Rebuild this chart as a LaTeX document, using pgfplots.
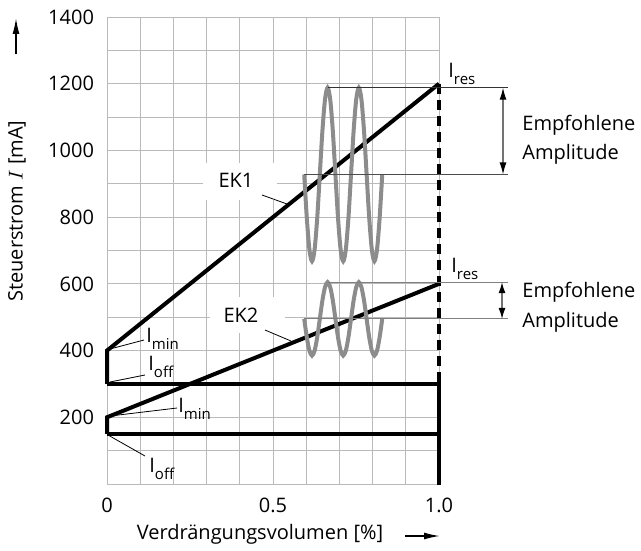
\documentclass[border=0pt]{standalone}
\usepackage{fontspec}
\setmainfont{Open Sans}
\usepackage{pgfplots}
\pgfplotsset{compat=1.18}
\usetikzlibrary{arrows.meta}

% lowered subscript as in the reference (I_min, I_off, I_res)
\newcommand{\sub}[1]{\raisebox{-3.5pt}{\fontsize{7.5}{9}\selectfont #1}}

\begin{document}
\begin{tikzpicture}[font=\fontsize{10}{12}\selectfont]
\begin{axis}[
    scale only axis,
    width=166pt, height=233.5pt,
    xmin=0, xmax=1, ymin=0, ymax=1400,
    xtick={0,0.5,1}, xticklabels={0,0.5,1.0},
    minor xtick={0.1,0.2,0.3,0.4,0.6,0.7,0.8,0.9},
    ytick={200,400,...,1400},
    minor ytick={100,300,...,1300},
    grid=both,
    grid style={black!27, line width=0.5pt},
    major tick length=0pt, minor tick length=0pt,
    axis line style={black!27, line width=0.5pt},
    /pgf/number format/assume math mode=true,
    /pgf/number format/1000 sep={},
    yticklabel style={xshift=-3pt},
    xticklabel style={yshift=-3.5pt},
    clip=false,
]
% EK1 / EK2 characteristics
\addplot[black, line width=2pt, line join=miter] coordinates {(0,300) (0,400) (1,1200)};
\addplot[black, line width=2pt, line join=miter] coordinates {(0,150) (0,200) (1,600)};
\addplot[black, line width=2pt, line join=miter] coordinates {(0,300) (1,300) (1,0)};
\addplot[black, line width=2pt] coordinates {(0,150) (1,150)};
\addplot[black, line width=2.2pt, dash pattern=on 5pt off 3pt] coordinates {(1,1200) (1,0)};

% recommended dither signal EK1
\addplot[black!45, line width=2pt, smooth] coordinates {
 (0.5940,928) (0.6018,798) (0.6097,702.8) (0.6175,668) (0.6253,702.8) (0.6332,798)
 (0.6410,928) (0.6488,1058) (0.6567,1153.2) (0.6645,1188) (0.6723,1153.2) (0.6802,1058)
 (0.6880,928) (0.6958,798) (0.7037,702.8) (0.7115,668) (0.7193,702.8) (0.7272,798)
 (0.7350,928) (0.7428,1058) (0.7507,1153.2) (0.7585,1188) (0.7663,1153.2) (0.7742,1058)
 (0.7820,928) (0.7898,798) (0.7977,702.8) (0.8055,668) (0.8133,702.8) (0.8212,798)
 (0.8290,928)};
% recommended dither signal EK2
\addplot[black!45, line width=2pt, smooth] coordinates {
 (0.5940,495) (0.6018,440) (0.6097,399.7) (0.6175,385) (0.6253,399.7) (0.6332,440)
 (0.6410,495) (0.6488,550) (0.6567,590.3) (0.6645,605) (0.6723,590.3) (0.6802,550)
 (0.6880,495) (0.6958,440) (0.7037,399.7) (0.7115,385) (0.7193,399.7) (0.7272,440)
 (0.7350,495) (0.7428,550) (0.7507,590.3) (0.7585,605) (0.7663,590.3) (0.7742,550)
 (0.7820,495) (0.7898,440) (0.7977,399.7) (0.8055,385) (0.8133,399.7) (0.8212,440)
 (0.8290,495)};

% amplitude guide lines and arrows
\draw[black!80, line width=0.6pt] (axis cs:0.6645,1188) -- (axis cs:1.2078,1188);
\draw[black!70, line width=0.6pt] (axis cs:0.5940,928) -- (axis cs:1.2078,928);
\draw[black!50, line width=0.6pt] (axis cs:0.6645,605) -- (axis cs:1.2078,605);
\draw[black!50, line width=0.6pt] (axis cs:0.5940,495) -- (axis cs:1.2078,495);
\draw[black!55, line width=0.6pt, {Latex[length=6pt,width=3.5pt,color=black]}-{Latex[length=6pt,width=3.5pt,color=black]}]
  (axis cs:1.1928,1188) -- (axis cs:1.1928,928);
\draw[black!55, line width=0.6pt, {Latex[length=5.5pt,width=3.5pt,color=black]}-{Latex[length=5.5pt,width=3.5pt,color=black]}]
  (axis cs:1.1898,605) -- (axis cs:1.1898,495);

\coordinate (TL) at (axis cs:-0.32229,1450.97);
\end{axis}

\pgfresetboundingbox
% annotations in image pixels (origin top left, 1px = 0.5pt)
\begin{scope}[shift={(TL)}, x=0.5pt, y=-0.5pt]
\path (0,0) rectangle (641,543);

% label boxes that break the grid
\fill[white] (203,163) rectangle (277,200);
\fill[white] (210,297) rectangle (285,333);
\node at (236,180) {EK1};
\node at (241,315) {EK2};
\draw[line width=0.4pt] (262,195) -- (287,204);
\draw[line width=0.4pt] (265,330) -- (291,341);

% I labels
\node[anchor=base west, inner sep=0] at (146,342) {I\sub{min}};
\node[anchor=base west, inner sep=0] at (148,370) {I\sub{off}};
\node[anchor=base west, inner sep=0] at (178,412) {I\sub{min}};
\node[anchor=base west, inner sep=0] at (149,472) {I\sub{off}};
\node[anchor=base west, inner sep=0] at (448,77) {I\sub{res}};
\node[anchor=base west, inner sep=0] at (451,272) {I\sub{res}};
\draw[line width=0.4pt] (110,349) -- (144,340);
\draw[line width=0.4pt] (110,382) -- (145,375);
\draw[line width=0.4pt] (110,416) -- (177,408);
\draw[line width=0.4pt] (108,435) -- (145,456);

% right-hand text
\node[anchor=base west, inner sep=0] at (522,130) {Empfohlene};
\node[anchor=base west, inner sep=0] at (522,159) {Amplitude};
\node[anchor=base west, inner sep=0] at (522,297) {Empfohlene};
\node[anchor=base west, inner sep=0] at (522,327) {Amplitude};

% axis titles with arrows
\node[rotate=90] at (17,211) {Steuerstrom $I$ [mA]};
\draw[line width=0.8pt, -{Latex[length=8pt,width=3.5pt]}] (16,54) -- (16,18);
\node[anchor=base] at (260,539) {Verdrängungsvolumen [\%]};
\draw[line width=0.8pt, -{Latex[length=8pt,width=3.5pt]}] (405,536) -- (440,536);
\end{scope}
\end{tikzpicture}
\end{document}
